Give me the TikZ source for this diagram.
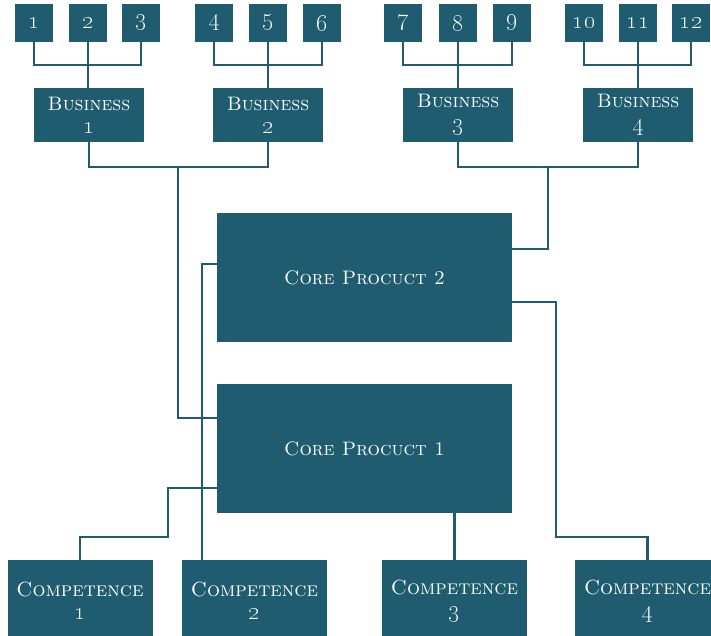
\documentclass[tikz,border=0pt]{standalone}
\usetikzlibrary{calc}
\definecolor{boxteal}{RGB}{31,92,112}
\newcommand{\onum}[1]{{\fontsize{23}{22}\selectfont\oldstylenums{#1}}}
\tikzset{
  box/.style={fill=boxteal, text=white, inner sep=0pt, align=center,
    font=\fontsize{19.5}{23}\selectfont\scshape},
  leaf/.style={box, minimum width=38pt, minimum height=38pt},
  biz/.style={box, minimum width=110pt, minimum height=54pt},
  core/.style={box, minimum width=295pt, minimum height=129pt},
  comp/.style={box, minimum width=145pt, minimum height=82pt,
    font=\fontsize{20.5}{23}\selectfont\scshape},
  link/.style={draw=boxteal, line width=2.4pt},
}
\begin{document}
\begin{tikzpicture}[x=1pt, y=-1pt]
\useasboundingbox (0,0) rectangle (711,636);
\clip (0,0) rectangle (711,636);

% leaf boxes
\foreach \n/\x in {1/34, 2/88, 3/141, 4/214, 5/268, 6/322,
                   7/403, 8/458, 9/512, 10/584, 11/638, 12/691}
  \node[leaf] (t\n) at (\x,23) {\onum{\n}};

% business units
\node[biz] (b1) at (89,115)  {Business\\\onum{1}};
\node[biz] (b2) at (268,115) {Business\\\onum{2}};
\node[biz] (b3) at (458,115) {Business\\\onum{3}};
\node[biz] (b4) at (638,115) {Business\\\onum{4}};

% core products
\node[core] (cp2) at (364.5,277.5) {Core Procuct 2};
\node[core] (cp1) at (364.5,448.5) {Core Procuct 1};

% competences
\node[comp] (c1) at (80,601)    {Competence\\\onum{1}};
\node[comp] (c2) at (254.5,601) {Competence\\\onum{2}};
\node[comp] (c3) at (454.5,601) {Competence\\\onum{3}};
\node[comp] (c4) at (647.5,601) {Competence\\\onum{4}};

% leaves to business units
\foreach \a/\m/\z/\b in {1/2/3/b1, 4/5/6/b2, 7/8/9/b3, 10/11/12/b4} {
  \draw[link] (t\a.south) |- ($(t\m.south)!0.5!(\b.north)$) -| (t\z.south);
  \draw[link] (t\m.south) -- (t\m.south |- \b.north);
}

% business units to core products
\coordinate (j12) at (178,167);
\coordinate (j34) at (548,167);
\draw[link] (b1.south) |- (j12) -| (b2.south);
\draw[link] (j12) |- ([yshift=-34pt]cp1.north west);
\draw[link] (b3.south) |- (j34) -| (b4.south);
\draw[link] (j34) |- ([yshift=-36pt]cp2.north east);

% core products to competences
\coordinate (k1) at (168,537);
\coordinate (k4) at (556,537);
\draw[link] ([yshift=-51pt]cp2.north west) -| ([xshift=-52.5pt]c2.north);
\draw[link] ([yshift=-104pt]cp1.north west) -| (k1) -| (c1.north);
\draw[link] (c3.north |- cp1.south) -- (c3.north);
\draw[link] ([yshift=-89pt]cp2.north east) -| (k4) -| (c4.north);
\end{tikzpicture}
\end{document}
